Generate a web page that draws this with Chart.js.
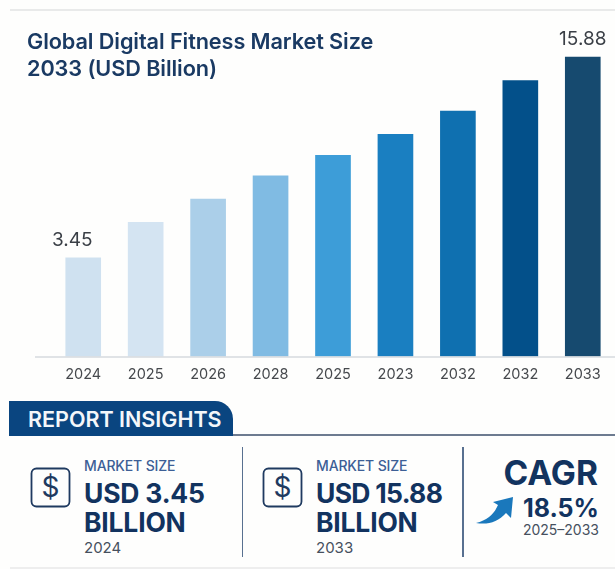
<!DOCTYPE html>
<html>
<head>
<meta charset="utf-8">
<title>Global Digital Fitness Market Size</title>
<script src="https://cdn.jsdelivr.net/npm/chart.js@4/dist/chart.umd.min.js"></script>
<style>
  html, body { margin: 0; padding: 0; background: #fefefd; }
  body { position: relative; width: 615px; height: 569px; overflow: hidden; font-family: Inter, "Noto Sans", sans-serif; }
  #trendChart { position: absolute; left: 0; top: 0; }
  .abs { position: absolute; white-space: nowrap; }
  .rule-top { left: 10px; right: 0; top: 9px; height: 2px; background: #e9eaea; }
  .rule-bottom { left: 10px; right: 0; top: 567px; height: 2px; background: #eeeeee; }
  .title { left: 27px; top: 28px; font-size: 21.7px; line-height: 27px; font-weight: 600; color: #1a3a63; letter-spacing: -0.1px; }
  .tab { left: 9px; top: 401px; width: 224px; height: 35px; background: #0a4580; border-top-right-radius: 18px; color: #f4f7fa; font-size: 21.5px; font-weight: 600; line-height: 37px; text-indent: 19px; }
  .tab-rule { left: 233px; right: 0; top: 434px; height: 2px; background: #6d7b90; }
  .divider { top: 447px; width: 1.5px; height: 110px; background: #587090; }
  .label { font-size: 14px; line-height: 16px; font-weight: 500; color: #3d5f96; letter-spacing: -0.15px; top: 458px; }
  .big { font-size: 26.5px; line-height: 29px; font-weight: 700; color: #12335f; top: 479px; letter-spacing: -0.2px; }
  .year { font-size: 15px; line-height: 18px; color: #46505e; top: 539px; }
  .cagr { right: 17px; top: 454px; font-size: 33.5px; line-height: 38px; font-weight: 700; color: #12335f; }
  .rate { right: 16px; top: 493px; font-size: 25px; line-height: 31px; font-weight: 700; color: #12335f; }
  .span { right: 16px; top: 521px; font-size: 14px; line-height: 18px; color: #46505e; }
  svg { position: absolute; }
</style>
</head>
<body>
<canvas id="trendChart" width="615" height="384"></canvas>

<div class="abs rule-top"></div>
<div class="abs title">Global Digital Fitness Market Size<br>2033 (USD Billion)</div>

<div class="abs tab">REPORT INSIGHTS</div>
<div class="abs tab-rule"></div>

<svg style="left:30px;top:467px" width="42" height="42" viewBox="0 0 42 42">
  <rect x="1.5" y="1.5" width="38" height="38" rx="5" fill="none" stroke="#1f3a60" stroke-width="1.8"/>
  <text x="20.5" y="30" text-anchor="middle" font-family="Inter, sans-serif" font-size="28" fill="#1f3a60">$</text>
</svg>
<div class="abs label" style="left:84px">MARKET SIZE</div>
<div class="abs big" style="left:84px">USD 3.45<br>BILLION</div>
<div class="abs year" style="left:84px">2024</div>
<div class="abs divider" style="left:241.5px"></div>

<svg style="left:262px;top:467px" width="42" height="42" viewBox="0 0 42 42">
  <rect x="1.5" y="1.5" width="38" height="38" rx="5" fill="none" stroke="#1f3a60" stroke-width="1.8"/>
  <text x="20.5" y="30" text-anchor="middle" font-family="Inter, sans-serif" font-size="28" fill="#1f3a60">$</text>
</svg>
<div class="abs label" style="left:316px">MARKET SIZE</div>
<div class="abs big" style="left:316px; letter-spacing:-0.7px">USD 15.88<br><span style="letter-spacing:-0.2px">BILLION</span></div>
<div class="abs year" style="left:316px">2033</div>
<div class="abs divider" style="left:462px"></div>

<svg style="left:474px;top:495px" width="42" height="30" viewBox="0 0 42 30">
  <path d="M2 28 C14 25 20 19 24 10 L19 7 L39 2 L37 23 L32 18 C24 27 14 30 2 28 Z" fill="#1a78bc"/>
</svg>
<div class="abs cagr">CAGR</div>
<div class="abs rate">18.5%</div>
<div class="abs span">2025–2033</div>

<div class="abs rule-bottom"></div>

<script>
// Market size per bar, USD billion
const categories = ['2024', '2025', '2026', '2028', '2025', '2023', '2032', '2032', '2033'];
const marketSize = [3.45, 5.65, 7.08, 8.53, 9.80, 11.10, 12.53, 14.42, 15.88];
const barColors = ['#cfe1f0', '#d4e4f2', '#abcfe9', '#80bbe3', '#3d9dd8', '#1a7fc1', '#0f70b0', '#03508a', '#164a6f'];
const valueLabels = ['3.45', '', '', '', '', '', '', '', '15.88'];

const axisMin = -2.66;
const axisMax = 17.86;

// Draws the baseline and the labels above the first and last bars
const barDecorations = {
  id: 'barDecorations',
  afterDatasetsDraw(chart) {
    const { ctx, scales } = chart;
    const baseY = scales.y.getPixelForValue(axisMin);

    ctx.save();
    ctx.strokeStyle = '#d6dade';
    ctx.lineWidth = 1.5;
    ctx.beginPath();
    ctx.moveTo(35, baseY + 0.5);
    ctx.lineTo(chart.width, baseY + 0.5);
    ctx.stroke();

    ctx.fillStyle = '#3a3f46';
    ctx.font = '19px Inter, sans-serif';
    ctx.textAlign = 'center';
    ctx.textBaseline = 'bottom';
    chart.getDatasetMeta(0).data.forEach((bar, i) => {
      if (valueLabels[i]) {
        const shift = i === 0 ? -11 : 0;
        ctx.fillText(valueLabels[i], bar.x + shift, bar.y - 8);
      }
    });
    ctx.restore();
  }
};

new Chart(document.getElementById('trendChart'), {
  type: 'bar',
  data: {
    labels: categories,
    datasets: [{
      data: marketSize,
      backgroundColor: barColors,
      base: axisMin,
      barThickness: 35,
    }],
  },
  options: {
    responsive: false,
    animation: false,
    layout: { padding: { left: 52, right: 1, top: 25, bottom: 0 } },
    plugins: {
      legend: { display: false },
      tooltip: { enabled: false },
    },
    scales: {
      x: {
        grid: { display: false },
        border: { display: false },
        ticks: {
          color: '#46494d',
          font: { family: 'Inter, sans-serif', size: 14.5 },
          maxRotation: 0,
          autoSkip: false,
          padding: 1,
        },
      },
      y: { display: false, min: axisMin, max: axisMax },
    },
  },
  plugins: [barDecorations],
});
</script>
</body>
</html>
